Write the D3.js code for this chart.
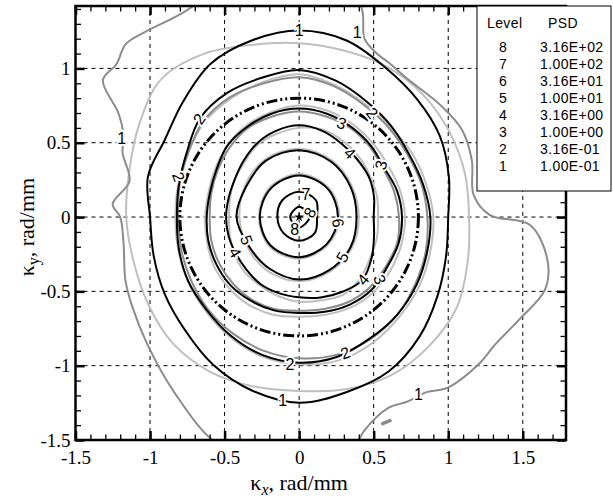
<!DOCTYPE html>
<html><head><meta charset="utf-8">
<script src="https://cdn.jsdelivr.net/npm/d3@7"></script>
<style>body{margin:0;background:#fff}</style>
</head><body>
<svg id="chart" width="613" height="500"></svg>
<script>
// ---- axis ticks ----
const xTicks = [-1.5, -1, -0.5, 0, 0.5, 1, 1.5];
const xTickLabels = ["-1.5", "-1", "-0.5", "0", "0.5", "1", "1.5"];
const yTicks = [-1.5, -1, -0.5, 0, 0.5, 1];
const yTickLabels = ["-1.5", "-1", "-0.5", "0", "0.5", "1"];

// ---- legend table ----
const levels = [8, 7, 6, 5, 4, 3, 2, 1];
const psdValues = ["3.16E+02", "1.00E+02", "3.16E+01", "1.00E+01", "3.16E+00", "1.00E+00", "3.16E-01", "1.00E-01"];

// ---- contour radii (rad/mm) sampled at fixed polar angles (degrees) ----
const angles24 = [0,15,30,45,60,75,90,105,120,135,150,165,180,195,210,225,240,255,270,285,300,315,330,345];
const angles12 = [0,30,60,90,120,150,180,210,240,270,300,330];
const angles8 = [0,45,90,135,180,225,270,315];
const angles4 = [0,90,180,270];

const black1 = [1.00,1.04,1.09,1.12,1.16,1.23,1.255,1.23,1.19,1.10,1.04,1.05,1.00,1.01,1.04,1.08,1.15,1.21,1.25,1.22,1.20,1.14,1.07,1.02];
const black2 = [0.88,0.86,0.85,0.87,0.90,0.95,0.99,0.97,0.965,0.94,0.87,0.835,0.82,0.835,0.86,0.88,0.92,0.96,0.98,0.975,0.945,0.93,0.91,0.89];
const black3 = [0.69,0.68,0.66,0.68,0.70,0.72,0.73,0.72,0.70,0.68,0.64,0.62,0.62,0.63,0.64,0.65,0.65,0.65,0.645,0.66,0.68,0.69,0.68,0.69];
const black4 = [0.50,0.52,0.54,0.55,0.57,0.60,0.617,0.60,0.57,0.53,0.50,0.49,0.49,0.49,0.49,0.50,0.52,0.53,0.54,0.56,0.58,0.60,0.56,0.52];
const black5 = [0.385,0.40,0.43,0.45,0.44,0.41,0.42,0.39,0.40,0.42,0.41,0.40];
const black6 = [0.26,0.27,0.28,0.27,0.264,0.27,0.27,0.26];
const black7 = [0.12,0.16,0.17,0.16,0.146,0.15,0.16,0.15];
const black8 = [0.07,0.07,0.06,0.07];

const light1 = [1.14,1.15,1.16,1.17,1.17,1.16,1.17,1.20,1.27,1.31,1.24,1.18,1.16,1.15,1.17,1.20,1.20,1.18,1.17,1.20,1.23,1.23,1.22,1.17];
const light2 = [0.90,0.88,0.87,0.86,0.88,0.92,0.96,0.94,0.92,0.90,0.86,0.84,0.83,0.84,0.86,0.89,0.93,0.97,0.99,1.00,0.98,0.95,0.93,0.91];
const light3 = [0.71,0.70,0.69,0.70,0.72,0.74,0.75,0.73,0.71,0.68,0.65,0.63,0.63,0.64,0.66,0.67,0.68,0.68,0.67,0.68,0.70,0.71,0.71,0.71];
const light4 = [0.53,0.54,0.55,0.57,0.59,0.61,0.60,0.58,0.56,0.52,0.50,0.48,0.47,0.48,0.50,0.52,0.53,0.55,0.57,0.58,0.60,0.58,0.55,0.54];
const light5 = [0.40,0.41,0.44,0.46,0.45,0.42,0.40,0.40,0.42,0.43,0.42,0.41];
const light6 = [0.27,0.28,0.29,0.28,0.27,0.28,0.28,0.27];

const dark1 = [[0.6,1.28],[-2,1.55],[-9.8,1.69],[-16.5,1.72],[-25,1.63],[-33,1.57],[-39,1.56],[-49,1.52],[-54,1.456],[-60,1.437],[-65,1.416],[-73,1.50],[-80,1.70],[-95,1.70],[-110,1.62],[-125,1.45],[-140,1.33],[-152,1.27],[-160,1.24],[-172,1.19],[-180,1.20],[176,1.254],[168,1.163],[160,1.26],[155,1.30],[150,1.40],[145,1.607],[140,1.60],[135,1.645],[130,1.62],[120,1.58],[110,1.62],[100,1.65],[90,1.70],[80,1.70],[73,1.45],[70,1.28],[65,1.22],[60,1.20],[51,1.18],[38.6,1.21],[28.2,1.24],[18.3,1.22],[7.2,1.18]];
const dark2 = [0.86,0.85,0.84,0.85,0.87,0.91,0.94,0.93,0.93,0.91,0.86,0.83,0.81,0.82,0.84,0.87,0.90,0.93,0.95,0.96,0.95,0.93,0.90,0.88];
const dark3 = [0.67,0.66,0.65,0.67,0.69,0.70,0.71,0.70,0.69,0.66,0.63,0.61,0.60,0.61,0.62,0.63,0.64,0.64,0.63,0.64,0.66,0.67,0.67,0.68];
// short isolated piece of the level-1 grey contour near the bottom edge, [kx, ky]
const darkPiece = [[0.56,-1.39],[0.61,-1.37]];

// contour labels: [text, kx, ky, rotation]
const blackLabels = [
  ["1", 0.0, 1.255, 0], ["1", -0.11, -1.235, 0],
  ["2", -0.67, 0.66, -55], ["2", 0.49, 0.70, 50], ["2", 0.31, -0.915, -20], ["2", -0.062, -0.995, 0],
  ["3", 0.285, 0.63, 20], ["3", 0.55, 0.35, -75], ["3", 0.54, -0.42, 70],
  ["4", 0.34, 0.43, 45], ["4", -0.43, -0.24, 60], ["4", 0.43, -0.42, -50],
  ["5", -0.353, -0.154, 70], ["5", 0.29, -0.27, -60],
  ["6", 0.26, -0.04, 80], ["7", 0.045, 0.155, 0],
  ["8", 0.072, 0.029, -60], ["8", -0.029, -0.083, 0]
];
const grayLabels = [
  ["1", -1.19, 0.53, 0], ["1", 0.39, 1.244, 0], ["1", 0.80, -1.195, 0], ["2", -0.81, 0.27, 70]
];
const refRadius = 0.8;

// ---- scales ----
const svg = d3.select("#chart");
const x = d3.scaleLinear().domain([-1.5, 1.79]).range([75.5, 566]);
const y = d3.scaleLinear().domain([-1.5, 1.42]).range([440, 6]);
const [x0, x1] = x.range(), [y0, y1] = y.range();

svg.append("defs").append("clipPath").attr("id", "plotClip")
  .append("rect").attr("x", x0).attr("y", y1).attr("width", x1 - x0).attr("height", y0 - y1);

// grid
const grid = svg.append("g").attr("stroke", "#000").attr("stroke-width", 1).attr("stroke-dasharray", "4,4");
grid.selectAll(".gx").data(xTicks.filter(v => v > -1.5)).join("line")
  .attr("x1", d => x(d)).attr("x2", d => x(d)).attr("y1", y0).attr("y2", y1);
grid.selectAll(".gy").data(yTicks.filter(v => v > -1.5)).join("line")
  .attr("y1", d => y(d)).attr("y2", d => y(d)).attr("x1", x0).attr("x2", x1);

// contours
const rad = Math.PI / 180;
const polar = (angles, radii) => radii.map((r, i) => [r * Math.cos(angles[i] * rad), r * Math.sin(angles[i] * rad)]);
const polarPairs = pairs => pairs.map(([a, r]) => [r * Math.cos(a * rad), r * Math.sin(a * rad)]);
const line = d3.line().x(p => x(p[0])).y(p => y(p[1])).curve(d3.curveCatmullRomClosed.alpha(0.5));
const openLine = d3.line().x(p => x(p[0])).y(p => y(p[1]));

const plot = svg.append("g").attr("clip-path", "url(#plotClip)").attr("fill", "none").attr("stroke-linejoin", "round");
const lightSet = [polar(angles24, light1), polar(angles24, light2), polar(angles24, light3), polar(angles24, light4), polar(angles12, light5), polar(angles8, light6)];
const darkSet = [polarPairs(dark1), polar(angles24, dark2), polar(angles24, dark3)];
const blackSet = [polar(angles24, black1), polar(angles24, black2), polar(angles24, black3), polar(angles24, black4),
  polar(angles12, black5), polar(angles8, black6), polar(angles8, black7), polar(angles4, black8)];

plot.selectAll(".light").data(lightSet).join("path").attr("d", line).attr("stroke", "#bfbfbf").attr("stroke-width", 2);
plot.selectAll(".dark").data(darkSet).join("path").attr("d", line).attr("stroke", "#8c8c8c").attr("stroke-width", 2);
plot.append("path").attr("d", openLine(darkPiece)).attr("stroke", "#8c8c8c").attr("stroke-width", 3.5).attr("stroke-linecap", "round");
plot.selectAll(".black").data(blackSet).join("path").attr("d", line).attr("stroke", "#000").attr("stroke-width", 2);

// reference circle
plot.append("ellipse").attr("cx", x(0)).attr("cy", y(0))
  .attr("rx", x(refRadius) - x(0)).attr("ry", y(0) - y(refRadius))
  .attr("stroke", "#000").attr("stroke-width", 3).attr("stroke-dasharray", "11,3,2,3,2,3");

// centre marker
const star = d3.symbol().type(d3.symbolStar).size(30);
svg.append("path").attr("d", star()).attr("transform", `translate(${x(0)},${y(0)})`).attr("fill", "#000");

// contour labels
const labelG = svg.append("g").attr("font-family", "'Liberation Sans', Arial, sans-serif").attr("font-size", 16)
  .attr("text-anchor", "middle").attr("dominant-baseline", "central")
  .attr("stroke", "#fff").attr("stroke-width", 4).attr("paint-order", "stroke");
labelG.selectAll(".bl").data(blackLabels.concat(grayLabels)).join("text")
  .attr("transform", d => `translate(${x(d[1])},${y(d[2])}) rotate(${d[3]})`)
  .attr("fill", "#000").text(d => d[0]);

// axes with inward ticks
const minorX = d3.range(-15, 18).map(v => v / 10);
const minorY = d3.range(-15, 15).map(v => v / 10);
function tickAxis(axisGen, transform, values, size, width, labels) {
  const g = svg.append("g").attr("transform", transform)
    .call(axisGen.tickValues(values).tickSize(-size).tickSizeOuter(0)
      .tickFormat(labels ? (d, i) => labels[i] : () => ""));
  g.select(".domain").remove();
  g.selectAll(".tick line").attr("stroke", "#000").attr("stroke-width", width);
  return g;
}
tickAxis(d3.axisBottom(x), `translate(0,${y0})`, minorX, 5.5, 1.3, null);
tickAxis(d3.axisTop(x), `translate(0,${y1})`, minorX, 5.5, 1.3, null);
tickAxis(d3.axisLeft(y), `translate(${x0},0)`, minorY, 5.5, 1.3, null);
tickAxis(d3.axisRight(y), `translate(${x1},0)`, minorY, 5.5, 1.3, null);
const bx = tickAxis(d3.axisBottom(x), `translate(0,${y0})`, xTicks, 9, 2.5, xTickLabels);
bx.selectAll("text").attr("y", 11);
const ly = tickAxis(d3.axisLeft(y), `translate(${x0},0)`, yTicks, 9, 2.5, yTickLabels);
ly.selectAll("text").attr("x", -5);
tickAxis(d3.axisTop(x), `translate(0,${y1})`, xTicks, 9, 2.5, null);
tickAxis(d3.axisRight(y), `translate(${x1},0)`, yTicks, 9, 2.5, null);
svg.selectAll(".tick text").attr("font-family", "'Liberation Serif', 'Times New Roman', serif").attr("font-size", 19).attr("fill", "#000");

// frame
svg.append("rect").attr("x", x0).attr("y", y1).attr("width", x1 - x0).attr("height", y0 - y1)
  .attr("fill", "none").attr("stroke", "#000").attr("stroke-width", 2.5);

// axis titles
const serif = "'Liberation Serif', 'Times New Roman', serif";
const xt = svg.append("text").attr("x", x(0)).attr("y", 490).attr("text-anchor", "middle")
  .attr("font-family", serif).attr("font-size", 22);
xt.append("tspan").text("κ");
xt.append("tspan").attr("font-size", 16).attr("font-style", "italic").attr("dy", 5).text("x");
xt.append("tspan").attr("dy", -5).text(", rad/mm");
const yt = svg.append("text").attr("transform", `translate(34,${y(0) + 10}) rotate(-90)`).attr("text-anchor", "middle")
  .attr("font-family", serif).attr("font-size", 22);
yt.append("tspan").text("κ");
yt.append("tspan").attr("font-size", 16).attr("dy", 5).text("y");
yt.append("tspan").attr("dy", -5).text(", rad/mm");

// legend table
const lg = svg.append("g").attr("font-family", "'Liberation Sans', Arial, sans-serif").attr("font-size", 14)
  .attr("letter-spacing", 0.4).attr("fill", "#000");
lg.append("rect").attr("x", 477).attr("y", y1).attr("width", 134).attr("height", 185)
  .attr("fill", "#fff").attr("stroke", "#000").attr("stroke-width", 1);
lg.append("text").attr("x", 487).attr("y", 28).text("Level");
lg.append("text").attr("x", 548).attr("y", 28).text("PSD");
lg.selectAll(".lv").data(levels).join("text").attr("x", 503).attr("y", (d, i) => 52 + i * 17)
  .attr("text-anchor", "middle").text(d => d);
lg.selectAll(".pv").data(psdValues).join("text").attr("x", 540).attr("y", (d, i) => 52 + i * 17)
  .text(d => d);
</script>
</body></html>
